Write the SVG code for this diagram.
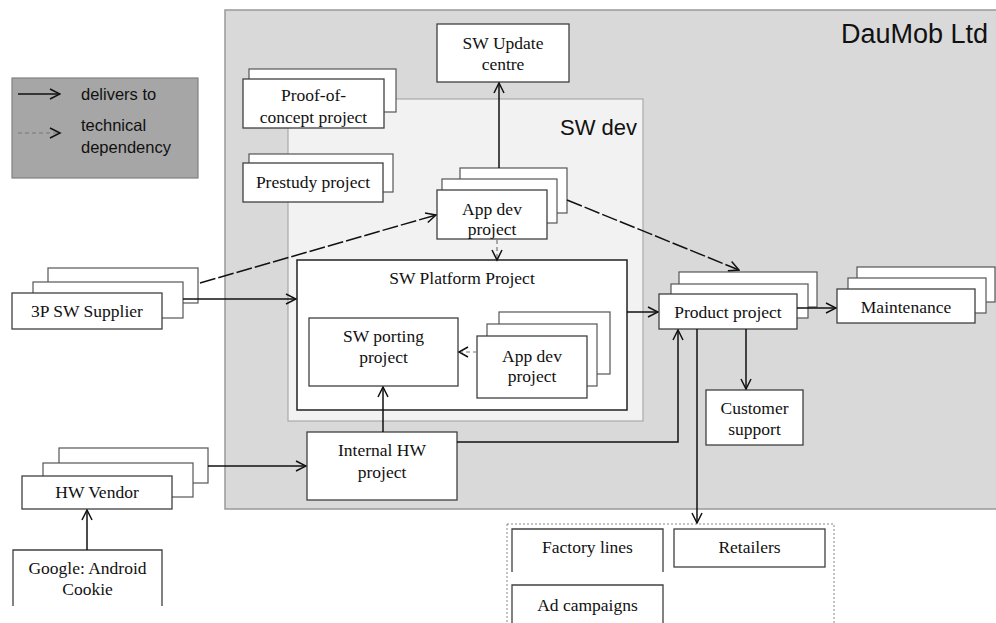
<svg xmlns="http://www.w3.org/2000/svg" width="996" height="623" viewBox="0 0 996 623">
<style>
.box{fill:#fff;stroke:#404040;stroke-width:1.3}
.back{fill:#fff;stroke:#555;stroke-width:1.2}
.t{font-family:"Liberation Serif","Times New Roman",serif;font-size:17.5px;fill:#111;text-anchor:middle}
.s{font-family:"Liberation Sans",Arial,sans-serif;fill:#111}
.ln{fill:none;stroke:#111;stroke-width:1.5}
.ld{fill:none;stroke:#111;stroke-width:1.5;stroke-dasharray:16,3}
.sd{fill:none;stroke:#777;stroke-width:1.2;stroke-dasharray:4,3}
</style>
<defs>
<marker id="a" viewBox="0 0 12 12" refX="11" refY="6" markerWidth="12" markerHeight="12" markerUnits="userSpaceOnUse" orient="auto">
<path d="M1,1 L11,6 L1,11" fill="none" stroke="#111" stroke-width="1.5"/>
</marker>
</defs>
<rect width="996" height="623" fill="#fff"/>
<g id="daumob">
<rect x="225" y="10" width="775" height="499" fill="#d9d9d9" stroke="#999" stroke-width="1.5"/>
<text class="s" x="988" y="43" font-size="27" text-anchor="end">DauMob Ltd</text>
</g>
<g id="swdev">
<rect x="288" y="99" width="355" height="322" fill="#f2f2f2" stroke="#aaa" stroke-width="1.2"/>
<text class="s" x="637" y="135" font-size="22" text-anchor="end">SW dev</text>
</g>
<g id="legend">
<rect x="12" y="78" width="186" height="100" fill="#a6a6a6" stroke="#808080" stroke-width="1.2"/>
<line class="ln" x1="18" y1="94" x2="60" y2="94" marker-end="url(#a)"/>
<line class="sd" x1="18" y1="133" x2="58" y2="133"/>
<path d="M50,128 L60,133 L50,138" fill="none" stroke="#111" stroke-width="1.5"/>
<text class="s" x="81" y="100" font-size="16.5">delivers to</text>
<text class="s" x="81" y="131" font-size="16.5">technical</text>
<text class="s" x="81" y="153" font-size="16.5">dependency</text>
</g>
<g id="sw-update-centre">
<rect class="box" x="437" y="24" width="132" height="58"/>
<text class="t" x="503" y="49">SW Update</text>
<text class="t" x="503" y="70">centre</text>
</g>
<g id="proof-of-concept">
<rect class="back" x="249" y="69" width="147" height="43"/>
<rect class="box" x="243" y="79" width="141" height="49"/>
<text class="t" x="313.5" y="101">Proof-of-</text>
<text class="t" x="313.5" y="123">concept project</text>
</g>
<g id="prestudy">
<rect class="back" x="249" y="154" width="144" height="38"/>
<rect class="box" x="243" y="163" width="140" height="39"/>
<text class="t" x="313" y="188">Prestudy project</text>
</g>
<g id="app-dev-top">
<rect class="back" x="460" y="168" width="107" height="45"/>
<rect class="back" x="442" y="179" width="115" height="44"/>
<rect class="box" x="437" y="190" width="110" height="49"/>
<text class="t" x="492" y="215">App dev</text>
<text class="t" x="492" y="235">project</text>
</g>
<g id="sw-platform">
<rect x="297" y="260" width="330" height="150" fill="#fff" stroke="#222" stroke-width="1.5"/>
<text class="t" x="462" y="284">SW Platform Project</text>
</g>
<g id="sw-porting">
<rect class="box" x="309" y="318" width="149" height="68"/>
<text class="t" x="383.5" y="342">SW porting</text>
<text class="t" x="383.5" y="363">project</text>
</g>
<g id="app-dev-inner">
<rect class="back" x="499" y="312" width="111" height="62"/>
<rect class="back" x="487" y="324" width="110" height="62"/>
<rect class="box" x="477" y="336" width="110" height="62"/>
<text class="t" x="532" y="362">App dev</text>
<text class="t" x="532" y="382">project</text>
</g>
<g id="supplier-3p">
<rect class="back" x="48" y="268" width="150" height="35"/>
<rect class="back" x="33" y="282" width="150" height="36"/>
<rect class="box" x="12" y="293" width="150" height="36"/>
<text class="t" x="87" y="317">3P SW Supplier</text>
</g>
<g id="product-project">
<rect x="679" y="272" width="138" height="35" fill="#fff" stroke="#555" stroke-width="1.2"/>
<rect class="back" x="671" y="284" width="137" height="34"/>
<rect class="box" x="659" y="294" width="138" height="35"/>
<text class="t" x="728" y="318">Product project</text>
</g>
<g id="maintenance">
<rect class="back" x="857" y="267" width="138" height="35"/>
<rect class="back" x="848" y="278" width="138" height="35"/>
<rect class="box" x="837" y="289" width="138" height="34"/>
<text class="t" x="906" y="313">Maintenance</text>
</g>
<g id="customer-support">
<rect class="box" x="706" y="390" width="97" height="55"/>
<text class="t" x="754.5" y="414">Customer</text>
<text class="t" x="754.5" y="435">support</text>
</g>
<g id="internal-hw">
<rect class="box" x="307" y="432" width="150" height="68"/>
<text class="t" x="382" y="456">Internal HW</text>
<text class="t" x="382" y="478">project</text>
</g>
<g id="hw-vendor">
<rect class="back" x="59" y="448" width="149" height="35"/>
<rect class="back" x="43" y="463" width="150" height="34"/>
<rect class="box" x="22" y="476" width="150" height="33"/>
<text class="t" x="97" y="498">HW Vendor</text>
</g>
<g id="google">
<path d="M13,606 L13,550 L162,550 L162,606" fill="#fff" stroke="#404040" stroke-width="1.3"/>
<text class="t" x="87.5" y="574">Google: Android</text>
<text class="t" x="87.5" y="595">Cookie</text>
</g>
<g id="channels">
<rect x="507" y="524" width="327" height="110" fill="#fff" stroke="#888" stroke-width="1" stroke-dasharray="2,2"/>
<path d="M512,572 L512,529 L663,529 L663,572" fill="#fff" stroke="#404040" stroke-width="1.3"/>
<text class="t" x="587.5" y="553">Factory lines</text>
<rect class="box" x="674" y="529" width="151" height="38"/>
<text class="t" x="749.5" y="553">Retailers</text>
<path d="M512,630 L512,585 L663,585 L663,630" fill="#fff" stroke="#404040" stroke-width="1.3"/>
<text class="t" x="587.5" y="611">Ad campaigns</text>
</g>
<g id="connectors">
<line class="ln" x1="499" y1="168" x2="499" y2="83" marker-end="url(#a)"/>
<line class="ld" x1="200" y1="283" x2="436" y2="215" marker-end="url(#a)"/>
<line class="ld" x1="567" y1="200" x2="739" y2="270" marker-end="url(#a)"/>
<line class="sd" x1="497" y1="240" x2="497" y2="258"/>
<path d="M492,250 L497,260 L502,250" fill="none" stroke="#111" stroke-width="1.5"/>
<line class="ln" x1="183" y1="299" x2="296" y2="299" marker-end="url(#a)"/>
<line class="sd" x1="477" y1="352" x2="462" y2="352"/>
<path d="M468,347 L459,352 L468,357" fill="none" stroke="#111" stroke-width="1.5"/>
<line class="ln" x1="383" y1="432" x2="383" y2="387" marker-end="url(#a)"/>
<line class="ln" x1="627" y1="312" x2="658" y2="312" marker-end="url(#a)"/>
<polyline class="ln" points="457,442 678,442 678,330" marker-end="url(#a)"/>
<line class="ln" x1="797" y1="308" x2="836" y2="308" marker-end="url(#a)"/>
<line class="ln" x1="746" y1="329" x2="746" y2="389" marker-end="url(#a)"/>
<line class="ln" x1="697" y1="329" x2="697" y2="523" marker-end="url(#a)"/>
<line class="ln" x1="208" y1="466" x2="306" y2="466" marker-end="url(#a)"/>
<line class="ln" x1="87" y1="550" x2="87" y2="510" marker-end="url(#a)"/>
</g>
</svg>
